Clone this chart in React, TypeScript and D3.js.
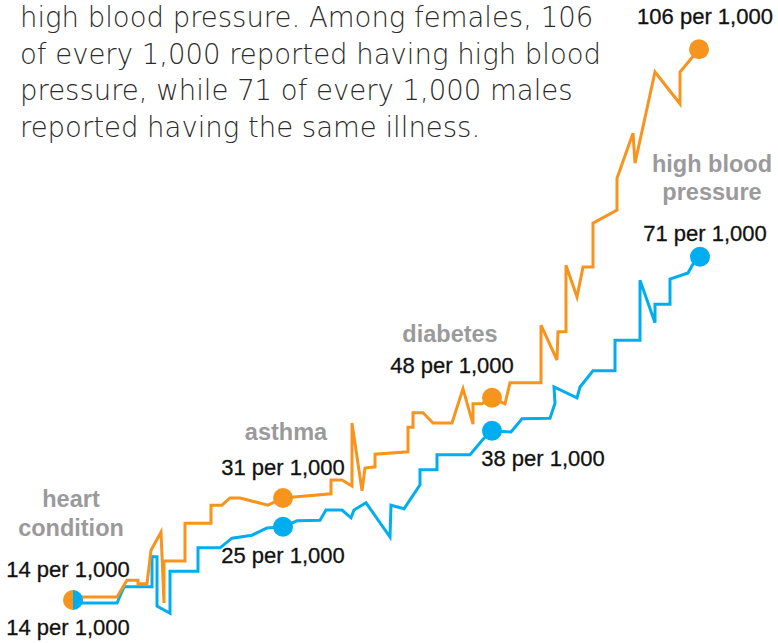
import React, { useEffect, useRef } from 'react';
import * as d3 from 'd3';

// Paragraph lines (top of the graphic, cut off above)
const introLines = [
  'high blood pressure. Among females, 106',
  'of every 1,000 reported having high blood',
  'pressure, while 71 of every 1,000 males',
  'reported having the same illness.',
];

// Female series (orange) - x = position along the path, y = rate per 1,000
const femaleX = [
  0, 8.8, 10.8, 13, 13, 14.8, 15.6, 17.6, 18.2, 18.2, 22.4, 22.4, 27.6, 27.6, 29.8, 31.4, 33.4, 39, 42,
  51.6, 51.6, 53.8, 55.8, 55.8, 57.8, 58.4, 60.4, 60.4, 67, 67, 68, 68, 70, 72, 75.8, 78, 80, 80, 81.8,
  83.8, 86.4, 87.4, 93.6, 93.6, 96.8, 97, 98.6, 98.6, 100.8, 102, 104, 104, 108.8, 108.8, 112, 112.4,
  116.4, 121.4, 121.4, 125.2,
];
const femaleY = [
  14.5, 14.5, 17.3, 17.3, 16.7, 16.7, 22.3, 25.3, 13.5, 20.5, 20.5, 26.8, 26.8, 29.8, 29.8, 31, 31, 29.8, 31,
  31.7, 34, 34, 33, 43.5, 32.2, 36, 36.2, 38.3, 38.7, 42.8, 42.8, 45.2, 45.2, 43.5, 43.5, 49.2, 43.3, 46.7, 46.7,
  47.7, 46.7, 50.2, 50.2, 59.8, 54, 58.7, 58.7, 69.8, 64.5, 69.5, 69.5, 76.8, 79, 84.3, 91.8, 86.8,
  102, 96.7, 102, 105.8,
];

// Male series (blue)
const maleX = [
  0, 8.8, 10.2, 15.8, 15.8, 16.8, 16.8, 19.4, 19.4, 25, 25, 29.4, 31.8, 35.8, 38.8, 42,
  44.8, 49.4, 50.6, 53.8, 55.6, 56.2, 58.6, 63.4, 63.6, 66.2, 69.4, 69.4, 72.8, 72.8, 79.4, 82, 83.8,
  87.6, 89.8, 95.4, 96.4, 96.2, 100.8, 101.4, 104, 108.4, 108.4, 113.4, 113.4, 116.4, 116.4, 119.4, 119.4,
  123, 124, 125.4,
];
const maleY = [
  13.5, 13.5, 16.2, 16.2, 21.2, 21.2, 13, 11.8, 18.8, 18.8, 22.7, 22.7, 24.3, 24.8, 26, 26.2,
  27.2, 27.3, 29, 29, 27.7, 29, 30.2, 24.5, 29.8, 29.2, 33.2, 35.7, 35.7, 38.2, 38.2, 40.8, 42.2,
  42, 44.2, 44.3, 46.8, 49.5, 47.7, 49.5, 52.2, 52.2, 57.3, 57.3, 67.3, 60.2, 63.3, 63.3, 67.5,
  68.5, 70, 71.2,
];

// Conditions highlighted along the path
const conditions = [['heart', 'condition'], ['asthma'], ['diabetes'], ['high blood', 'pressure']];
const femaleRates = [14, 31, 48, 106];
const maleRates = [14, 25, 38, 71];
const femaleMarkerIdx = [0, 18, 39, 59];
const maleMarkerIdx = [0, 15, 32, 51];

const ORANGE = '#F7941D';
const BLUE = '#00AEEF';
const GRAY = '#9a9a9c';

// label offsets relative to the female marker (layout only)
const layout = [
  { fdx: -5, fdy: -23, mdx: -5, mdy: 35, name: { dx: -2, dy: [-93, -64] } },
  { fdx: 0, fdy: -23, mdx: 0, mdy: 36, name: { dx: 3, dy: [-58] } },
  { fdx: -40, fdy: -25, mdx: 51, mdy: 35, name: { dx: -42, dy: [-56] } },
  { fdx: 6, fdy: -25, mdx: 5, mdy: -16, name: { dx: 13, dy: [123, 151] } },
];

const App = () => {
  const svgRef = useRef<SVGSVGElement>(null);

  useEffect(() => {
    const width = 778;
    const height = 643;
    const svg = d3.select(svgRef.current).attr('width', width).attr('height', height);
    svg.selectAll('*').remove();

    const x = d3.scaleLinear().domain([0, 125]).range([73, 698]);
    const y = d3.scaleLinear().domain([14, 106]).range([600, 48]);

    const female = femaleX.map((v, i) => [v, femaleY[i]] as [number, number]);
    const male = maleX.map((v, i) => [v, maleY[i]] as [number, number]);

    const path = d3.line<[number, number]>().x(d => x(d[0])).y(d => y(d[1]));

    // intro text
    svg.append('g')
      .selectAll('text')
      .data(introLines)
      .enter()
      .append('text')
      .attr('x', 20)
      .attr('y', (d, i) => 27 + i * 36.7)
      .attr('font-family', '"DejaVu Sans", sans-serif')
      .attr('font-weight', 200)
      .attr('font-size', 27.5)
      .attr('fill', '#2b2b2b')
      .text(d => d);

    svg.append('path')
      .datum(male)
      .attr('fill', 'none')
      .attr('stroke', BLUE)
      .attr('stroke-width', 3)
      .attr('d', path);

    svg.append('path')
      .datum(female)
      .attr('fill', 'none')
      .attr('stroke', ORANGE)
      .attr('stroke-width', 3)
      .attr('d', path);

    const labelFont = '"Liberation Sans", Arial, sans-serif';

    const valueLabel = (tx: number, ty: number, txt: string) =>
      svg.append('text')
        .attr('x', tx)
        .attr('y', ty)
        .attr('text-anchor', 'middle')
        .attr('font-family', labelFont)
        .attr('font-size', 22)
        .attr('fill', '#111')
        .attr('stroke', '#111')
        .attr('stroke-width', 0.3)
        .text(txt);

    conditions.forEach((name, i) => {
      const f = female[femaleMarkerIdx[i]];
      const m = male[maleMarkerIdx[i]];
      const fx = x(f[0]);
      const mx = x(m[0]);
      const fy = i === 0 ? y(femaleRates[0]) : y(f[1]);
      const my = i === 0 ? y(maleRates[0]) : y(m[1]);
      const lay = layout[i];

      if (i === 0) {
        // split marker: left half female, right half male
        const arc = d3.arc<any>().innerRadius(0).outerRadius(10);
        svg.append('path')
          .attr('transform', `translate(${fx},${fy})`)
          .attr('fill', ORANGE)
          .attr('d', arc({ startAngle: Math.PI, endAngle: 2 * Math.PI }) as string);
        svg.append('path')
          .attr('transform', `translate(${fx},${my})`)
          .attr('fill', BLUE)
          .attr('d', arc({ startAngle: 0, endAngle: Math.PI }) as string);
      } else {
        svg.append('circle').attr('cx', mx).attr('cy', my).attr('r', 10).attr('fill', BLUE);
        svg.append('circle').attr('cx', fx).attr('cy', fy).attr('r', 10).attr('fill', ORANGE);
      }

      valueLabel(fx + lay.fdx, fy + lay.fdy, `${femaleRates[i]} per 1,000`);
      valueLabel(mx + lay.mdx, my + lay.mdy, `${maleRates[i]} per 1,000`);

      name.forEach((ln, j) => {
        svg.append('text')
          .attr('x', fx + lay.name.dx)
          .attr('y', fy + lay.name.dy[j])
          .attr('text-anchor', 'middle')
          .attr('font-family', labelFont)
          .attr('font-weight', 'bold')
          .attr('font-size', 23.5)
          .attr('fill', GRAY)
          .text(ln);
      });
    });
  }, []);

  return (
    <svg ref={svgRef} style={{ position: 'absolute', left: 0, top: 0, background: '#fff' }}></svg>
  );
};

export default App;
